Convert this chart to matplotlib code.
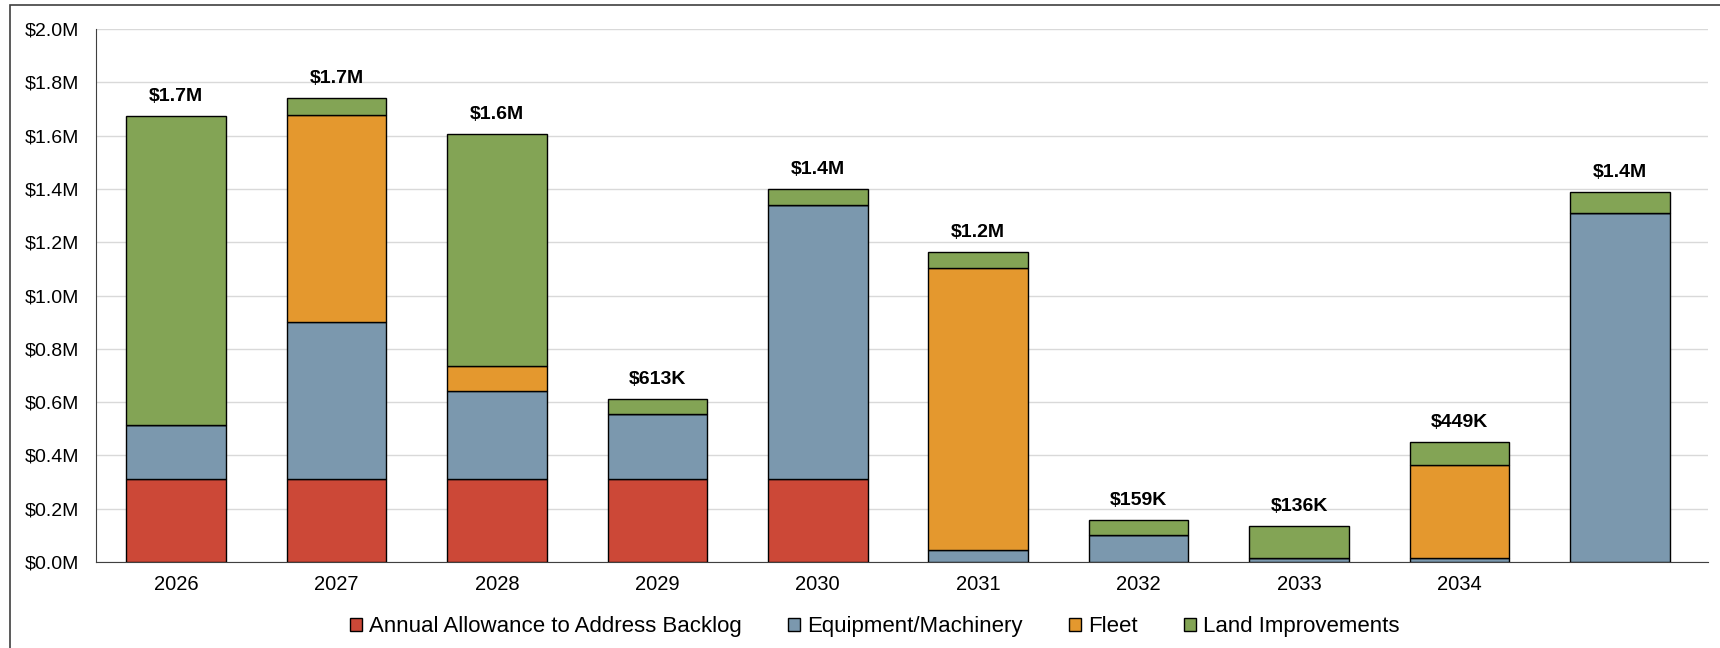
import matplotlib.pyplot as plt
import matplotlib.patches as mpatches
import numpy as np

plt.rcParams['font.family'] = ['Liberation Sans', 'DejaVu Sans']

# capital spending by year, in $M
years = ['2026', '2027', '2028', '2029', '2030', '2031', '2032', '2033', '2034', '']
backlog = [0.310, 0.310, 0.310, 0.310, 0.310, 0.0, 0.0, 0.0, 0.0, 0.0]
equipment = [0.204, 0.590, 0.330, 0.245, 1.029, 0.045, 0.100, 0.014, 0.014, 1.308]
fleet = [0.0, 0.777, 0.094, 0.0, 0.0, 1.058, 0.0, 0.0, 0.349, 0.0]
land = [1.159, 0.064, 0.873, 0.058, 0.062, 0.060, 0.059, 0.122, 0.086, 0.081]
total_labels = ['$1.7M', '$1.7M', '$1.6M', '$613K', '$1.4M', '$1.2M', '$159K', '$136K', '$449K', '$1.4M']

series = [
    ('Annual Allowance to Address Backlog', backlog, '#CC4837'),
    ('Equipment/Machinery', equipment, '#7B98AE'),
    ('Fleet', fleet, '#E4982E'),
    ('Land Improvements', land, '#83A455'),
]

fig = plt.figure(figsize=(17.2, 6.48), dpi=100)
ax = fig.add_axes([96 / 1720, 1 - 562 / 648, (1708 - 96) / 1720, (562 - 29) / 648])

x = np.arange(len(years))
bottom = np.zeros(len(years))
for name, vals, col in series:
    vals = np.array(vals)
    ax.bar(x, vals, 0.62, bottom=bottom, color=col, edgecolor='black',
           linewidth=1.0, label=name, zorder=3)
    bottom += vals

# totals above each stack
for xi, top, lab in zip(x, bottom, total_labels):
    ax.annotate(lab, (xi, top), xytext=(0, 8), textcoords='offset points',
                ha='center', va='bottom', fontsize=14, fontweight='bold')

ax.set_xlim(-0.5, len(years) - 0.45)
ax.set_ylim(0, 2.0)
ax.set_yticks(np.arange(0, 2.01, 0.2))
ax.set_yticklabels([f'${v:.1f}M' for v in np.arange(0, 2.01, 0.2)])
ax.set_xticks(x)
ax.set_xticklabels(years)
ax.tick_params(axis='x', length=0, labelsize=14.5, pad=9)
ax.tick_params(axis='y', length=0, labelsize=14, pad=12)
ax.grid(axis='y', color='#D9D9D9', linewidth=1, zorder=0)
for s in ['top', 'right']:
    ax.spines[s].set_visible(False)
ax.spines['left'].set_color('#404040')
ax.spines['bottom'].set_color('#404040')

leg = ax.legend(loc='upper center', bbox_to_anchor=(0.483, -0.064), ncol=4,
                frameon=False, fontsize=16, handlelength=0.55, handleheight=0.55,
                handletextpad=0.3, columnspacing=2.1)

# outer frame around the chart
fig.patches.append(mpatches.Rectangle((10 / 1720, -0.1), 1.2, 1.1 - 5 / 648,
                                      transform=fig.transFigure, fill=False,
                                      edgecolor='#404040', linewidth=1.2))

fig.savefig('out.png', dpi=100)
